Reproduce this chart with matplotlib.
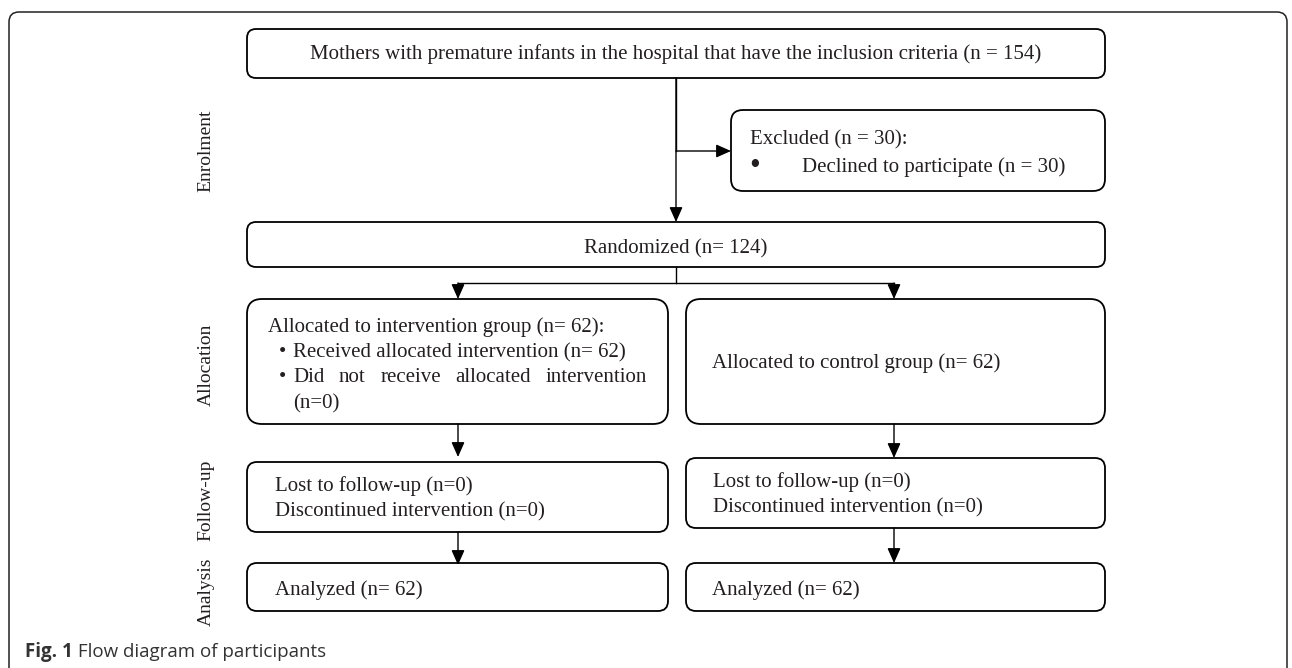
import matplotlib.pyplot as plt
from matplotlib.patches import FancyBboxPatch

# text content
stage_labels = ['Enrolment', 'Allocation', 'Follow-up', 'Analysis']
stage_y = [151, 365, 500, 592]

top_text = 'Mothers with premature infants in the hospital that have the inclusion criteria (n = 154)'
excluded_title = 'Excluded (n = 30):'
excluded_item = 'Declined to participate (n = 30)'
randomized_text = 'Randomized (n= 124)'
alloc_left_title = 'Allocated to intervention group (n= 62):'
alloc_left_items = ['Received allocated intervention (n= 62)',
                    'Did not receive allocated intervention']
alloc_left_tail = '(n=0)'
alloc_right_text = 'Allocated to control group (n= 62)'
followup_lines = ['Lost to follow-up (n=0)', 'Discontinued intervention (n=0)']
analysis_text = 'Analyzed (n= 62)'
caption_bold = 'Fig. 1'
caption_rest = ' Flow diagram of participants'

SERIF = 'Liberation Serif'
FS = 15
INK = '#231f20'

fig = plt.figure(figsize=(12.92, 6.68), dpi=100)
ax = fig.add_axes([0, 0, 1, 1])
ax.set_xlim(0, 1292)
ax.set_ylim(668, 0)
ax.axis('off')


def box(x0, y0, x1, y1, r=9, lw=1.3):
    p = FancyBboxPatch((x0, y0), x1 - x0, y1 - y0,
                       boxstyle=f'round,pad=0,rounding_size={r}',
                       fc='white', ec='black', lw=lw, zorder=2)
    ax.add_patch(p)


def arrow(x0, y0, x1, y1):
    ax.annotate('', xy=(x1, y1), xytext=(x0, y0),
                arrowprops=dict(arrowstyle='-|>,head_length=0.9,head_width=0.4',
                                color='black', lw=1.0, shrinkA=0, shrinkB=0),
                zorder=3)


def line(xs, ys):
    ax.plot(xs, ys, color='black', lw=1.0, zorder=1)


def txt(x, y, s, ha='left', **kw):
    kw.setdefault('fontsize', FS)
    ax.text(x, y, s, ha=ha, va='baseline', family=SERIF,
            color=INK, zorder=4, **kw)


# outer frame
frame = FancyBboxPatch((9, 12), 1278, 700, boxstyle='round,pad=0,rounding_size=10',
                       fc='none', ec='#222222', lw=1.1, zorder=0)
ax.add_patch(frame)

# stage labels
for lab, y in zip(stage_labels, stage_y):
    ax.text(206, y, lab, rotation=90, ha='center', va='center',
            fontsize=14, family=SERIF, color=INK)

# connectors
line([676, 676], [78, 151])
arrow(676, 151, 731, 151)
arrow(676, 78, 676, 222)
line([676, 676], [267, 283])
line([458, 894], [283, 283])
arrow(458, 283, 458, 299)
arrow(894, 283, 894, 299)
arrow(458, 424, 458, 457)
arrow(894, 424, 894, 458)
arrow(458, 532, 458, 565)
arrow(894, 528, 894, 563)

# boxes
box(247, 29, 1105, 78)
txt(676, 59, top_text, ha='center')

box(731, 110, 1105, 191, r=12)
txt(750, 144, excluded_title)
txt(755, 174, '\u2022', ha='center', fontsize=22)
txt(802, 172, excluded_item)

box(247, 222, 1105, 267)
txt(676, 253, randomized_text, ha='center')

box(247, 299, 668, 424, r=15)
box(686, 299, 1105, 424, r=15)
txt(268, 332, alloc_left_title)
item_y = [357, 382]
for y in item_y:
    txt(282, y, '\u2022', ha='center')
txt(293, item_y[0], alloc_left_items[0])
txt(293, 408, alloc_left_tail)
txt(712, 368, alloc_right_text)

# justified line
fig.canvas.draw()
renderer = fig.canvas.get_renderer()
words = alloc_left_items[1].split()
widths = []
for w in words:
    t = ax.text(0, 0, w, fontsize=FS, family=SERIF)
    bb = t.get_window_extent(renderer)
    widths.append(bb.width * 1292 / fig.bbox.width)
    t.remove()
x_start, x_end = 293, 647
gap = (x_end - x_start - sum(widths)) / (len(words) - 1)
x = x_start
for w, wd in zip(words, widths):
    txt(x, item_y[1], w)
    x += wd + gap

box(247, 462, 668, 532, r=10)
box(686, 458, 1105, 528, r=10)
for i, s in enumerate(followup_lines):
    txt(275, 491 + 25 * i, s)
    txt(713, 487 + 25 * i, s)

box(247, 563, 668, 611, r=10)
box(686, 563, 1105, 611, r=10)
txt(275, 595, analysis_text)
txt(712, 595, analysis_text)

# caption
cb = ax.text(25, 657, caption_bold, ha='left', va='baseline', fontsize=13.5,
             family='Open Sans', fontweight='bold', color='#333333')
fig.canvas.draw()
bb = cb.get_window_extent(fig.canvas.get_renderer())
ax.text(25 + bb.width * 1292 / fig.bbox.width, 657, caption_rest, ha='left',
        va='baseline', fontsize=13.5, family='Open Sans', color='#333333')

fig.savefig('out.png', dpi=100)
